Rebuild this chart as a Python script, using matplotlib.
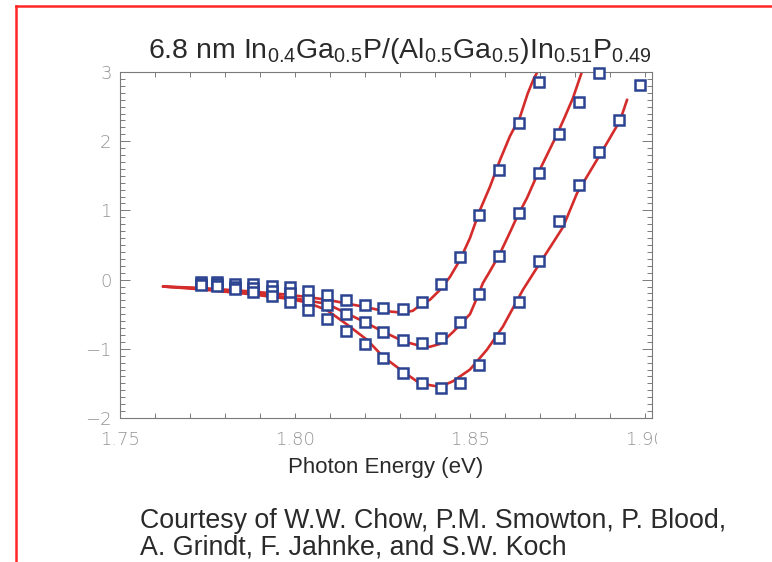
import matplotlib
matplotlib.use('Agg')
import matplotlib.pyplot as plt
from matplotlib.lines import Line2D
from matplotlib.ticker import MultipleLocator, FixedLocator
from matplotlib.transforms import Bbox

plt.rcParams['font.family'] = ['Liberation Sans', 'DejaVu Sans']
plt.rcParams['mathtext.fontset'] = 'custom'
plt.rcParams['mathtext.rm'] = 'Liberation Sans'
plt.rcParams['mathtext.it'] = 'Liberation Sans'

# Измеренные точки (квадраты), три серии
meas_x = [1.7731, 1.7776, 1.7829, 1.7881, 1.7933, 1.7986, 1.8038, 1.8091,
          1.8146, 1.8200, 1.8252, 1.8308, 1.8362, 1.8416, 1.8471, 1.8527,
          1.8583, 1.8639, 1.8696, 1.8754, 1.8811, 1.8869, 1.8927, 1.8986]
meas_top = [-0.04, -0.04, -0.06, -0.07, -0.09, -0.10, -0.17, -0.22, -0.29, -0.36,
            -0.41, -0.42, -0.32, -0.07, 0.32, 0.93, 1.58, 2.27, 2.86]
meas_mid = [-0.06, -0.06, -0.10, -0.12, -0.16, -0.20, -0.29, -0.37, -0.49, -0.61,
            -0.75, -0.87, -0.91, -0.84, -0.61, -0.21, 0.34, 0.96, 1.54, 2.11,
            2.57, 2.99]
meas_low = [-0.08, -0.09, -0.14, -0.18, -0.24, -0.32, -0.44, -0.57, -0.74, -0.93,
            -1.13, -1.35, -1.50, -1.57, -1.49, -1.24, -0.85, -0.32, 0.27, 0.84,
            1.36, 1.85, 2.31, 2.81]

# Теоретические кривые (красные)
fit_top_x = [1.7623, 1.7729, 1.7871, 1.7986, 1.8091, 1.8194, 1.8251, 1.8309,
             1.8337, 1.8357, 1.8386, 1.8414, 1.8443, 1.8471, 1.8500, 1.8514,
             1.8529, 1.8557, 1.8586, 1.8614, 1.8643, 1.8665, 1.8683, 1.8698]
fit_top_y = [-0.10, -0.12, -0.17, -0.22, -0.29, -0.39, -0.45, -0.48,
             -0.45, -0.37, -0.29, -0.15, 0.04, 0.28, 0.60, 0.80,
             1.01, 1.34, 1.73, 2.07, 2.35, 2.69, 2.91, 3.05]
fit_mid_x = [1.7623, 1.7729, 1.7871, 1.7986, 1.8091, 1.8194, 1.8251, 1.8309,
             1.8366, 1.8386, 1.8414, 1.8451, 1.8500, 1.8517, 1.8537, 1.8557,
             1.8586, 1.8614, 1.8634, 1.8663, 1.8691, 1.8720, 1.8749, 1.8771,
             1.8794, 1.8823]
fit_mid_y = [-0.10, -0.13, -0.19, -0.26, -0.35, -0.60, -0.75, -0.89,
             -0.97, -0.97, -0.93, -0.76, -0.50, -0.30, -0.05, 0.12,
             0.38, 0.68, 0.90, 1.18, 1.50, 1.80, 2.10, 2.35,
             2.62, 3.05]
fit_low_x = [1.7623, 1.7729, 1.7871, 1.7986, 1.8034, 1.8091, 1.8149, 1.8206,
             1.8251, 1.8309, 1.8357, 1.8414, 1.8451, 1.8500, 1.8549, 1.8594,
             1.8651, 1.8700, 1.8737, 1.8766, 1.8806, 1.8851, 1.8891, 1.8929,
             1.8949]
fit_low_y = [-0.10, -0.14, -0.21, -0.28, -0.33, -0.44, -0.65, -0.87,
             -1.11, -1.33, -1.50, -1.55, -1.47, -1.30, -1.01, -0.68,
             -0.15, 0.24, 0.53, 0.76, 1.25, 1.63, 1.97, 2.30,
             2.60]

x_ticks = [1.75, 1.80, 1.85, 1.90]
x_tick_labels = ['1.75', '1.80', '1.85', '1.90']
y_ticks = [-2, -1, 0, 1, 2, 3]
y_tick_labels = ['\u22122', '\u22121', '0', '1', '2', '3']

fig = plt.figure(figsize=(7.72, 5.62), dpi=100)
ax = fig.add_axes([0.1554, 0.2562, 0.6891, 0.6157])

line_color = '#d42b2b'
box_color = '#2b4391'

for fx, fy in [(fit_top_x, fit_top_y), (fit_mid_x, fit_mid_y), (fit_low_x, fit_low_y)]:
    ax.plot(fx, fy, color=line_color, lw=1.9, zorder=2, solid_capstyle='round')

for ys in [meas_top, meas_mid, meas_low]:
    ax.plot(meas_x[:len(ys)], ys, ls='none', marker='s', markersize=7.5,
            markerfacecolor='white', markeredgecolor=box_color,
            markeredgewidth=1.8, zorder=3, clip_on=False)

ax.set_xlim(1.75, 1.902)
ax.set_ylim(-2, 3)

ax.xaxis.set_major_locator(FixedLocator(x_ticks))
ax.set_xticklabels(x_tick_labels)
ax.xaxis.set_minor_locator(MultipleLocator(0.01))
ax.yaxis.set_major_locator(FixedLocator(y_ticks))
ax.set_yticklabels(y_tick_labels)
ax.yaxis.set_minor_locator(MultipleLocator(0.1))

# подписи делений — тонкий широкий шрифт, светло-серый
tick_grey = '#939393'
ax.tick_params(axis='both', which='both', direction='in', top=True, right=True,
               color='#7a7a7a', width=0.7, labelcolor=tick_grey)
ax.tick_params(axis='x', which='both', length=3.5, pad=9)
ax.tick_params(axis='y', which='major', length=7, pad=6)
ax.tick_params(axis='y', which='minor', length=3.5)
for lab in ax.get_xticklabels() + ax.get_yticklabels():
    lab.set_family('DejaVu Sans')
    lab.set_weight('light')
    lab.set_fontsize(13)
for sp in ax.spines.values():
    sp.set_color('#7a7a7a')
    sp.set_linewidth(0.8)

# правая подпись 1.90 в оригинале обрезана
clip = Bbox.from_extents(0, 0, 657, 562)
for lab in ax.get_xticklabels():
    lab.set_clip_on(True)
    lab.set_clip_box(clip)

txt_color = '#2a2a2a'
fig.text(0.518, 0.897,
         r'6.8 nm In$_{\mathrm{0.4}}$Ga$_{\mathrm{0.5}}$P/(Al$_{\mathrm{0.5}}$Ga$_{\mathrm{0.5}}$)'
         r'In$_{\mathrm{0.51}}$P$_{\mathrm{0.49}}$',
         ha='center', va='baseline', fontsize=20.5, color=txt_color)
fig.text(386 / 772, 1 - 467 / 562, 'Photon Energy (eV)', ha='center', va='center',
         fontsize=16, color=txt_color)
fig.text(140 / 772, 1 - 521 / 562, 'Courtesy of W.W. Chow, P.M. Smowton, P. Blood,',
         ha='left', va='center', fontsize=19.3, color=txt_color)
fig.text(140 / 772, 1 - 547 / 562, 'A. Grindt, F. Jahnke, and S.W. Koch',
         ha='left', va='center', fontsize=19.3, color=txt_color)

# красная рамка слайда
fig.add_artist(Line2D([16 / 772, 16 / 772], [0, 1 - 6 / 562], color='#ff2626', lw=1.8))
fig.add_artist(Line2D([16 / 772, 1], [1 - 6 / 562, 1 - 6 / 562], color='#ff2626', lw=1.8))

fig.savefig('out.png', dpi=100)
